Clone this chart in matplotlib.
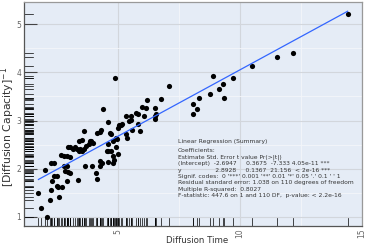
import numpy as np
import matplotlib
matplotlib.use('Agg')
import matplotlib.pyplot as plt
import matplotlib.transforms as mtransforms

# values
diff_time = [2.13, 1.87, 1.76, 2.24, 2.04, 2.27, 2.28, 2.41, 2.33, 2.41,
             2.52, 2.52, 2.61, 2.58, 2.72, 2.86, 2.95, 3.07, 2.79, 2.93,
             2.93, 3.38, 2.68, 2.79, 2.93, 3.04, 2.97, 3.07, 3.18, 3.24,
             3.34, 3.41, 3.48, 3.55, 3.61, 3.41, 3.55, 3.71, 3.82, 3.92,
             4.00, 3.61, 3.68, 3.96, 4.13, 4.16, 4.27, 4.37, 4.30, 4.41,
             4.16, 4.26, 4.34, 4.60, 4.62, 4.62, 4.71, 4.60, 4.81, 4.85,
             4.82, 4.67, 4.75, 5.01, 4.92, 4.82, 4.99, 5.05, 5.12, 5.03,
             5.36, 5.37, 5.33, 5.53, 5.53, 5.47, 5.60, 5.84, 5.91, 5.77,
             5.84, 6.08, 6.22, 6.15, 6.53, 6.53, 6.56, 4.88, 7.11, 6.77,
             6.52, 8.89, 9.30, 9.72, 9.13, 8.79, 9.35, 8.35, 8.07, 8.25,
             8.07, 10.51, 14.41, 12.16, 11.54, 4.57, 5.99, 3.89, 5.19, 4.94]
inv_capacity = [0.99, 1.19, 1.49, 1.35, 1.98, 1.56, 2.12, 2.12, 1.75, 1.85,
                1.85, 1.65, 1.42, 1.62, 1.61, 1.96, 1.94, 1.92, 2.05, 2.06,
                1.74, 1.77, 2.28, 2.27, 2.26, 2.24, 2.44, 2.46, 2.41, 2.44,
                2.41, 2.36, 2.40, 2.36, 2.40, 2.57, 2.59, 2.48, 2.52, 2.57,
                2.54, 2.79, 2.05, 2.05, 1.92, 1.79, 2.15, 2.12, 2.05, 3.24,
                2.74, 2.76, 2.80, 2.52, 2.96, 2.36, 2.36, 2.13, 2.26, 2.19,
                2.12, 2.74, 2.71, 2.31, 2.45, 2.57, 2.62, 2.90, 2.90, 2.85,
                2.72, 2.63, 3.09, 3.10, 3.01, 2.99, 2.81, 2.92, 2.78, 3.16,
                3.13, 3.09, 3.42, 3.26, 3.09, 3.04, 3.13, 3.88, 3.71, 3.45,
                3.25, 3.92, 3.76, 3.88, 3.65, 3.56, 3.46, 3.46, 3.35, 3.24,
                3.14, 4.13, 5.21, 4.41, 4.31, 2.37, 3.29, 2.57, 2.92, 2.64]

# fitted line as drawn in the picture
fit_intercept = 1.29
fit_slope = 0.276

summary_lines = [
    "Linear Regression (Summary)",
    "Coefficients:",
    "Estimate Std. Error t value Pr(>|t|)",
    "(Intercept)  -2.6947     0.3675  -7.333 4.05e-11 ***",
    "y                  2.8928     0.1367  21.156  < 2e-16 ***",
    "Signif. codes:  0 '***' 0.001 '**' 0.01 '*' 0.05 '.' 0.1 ' ' 1",
    "Residual standard error: 1.038 on 110 degrees of freedom",
    "Multiple R-squared:  0.8027",
    "F-statistic: 447.6 on 1 and 110 DF,  p-value: < 2.2e-16",
]

x = np.array(diff_time)
y = np.array(inv_capacity)

W, H = 367, 249
fig = plt.figure(figsize=(W / 100, H / 100), dpi=100)
ax = fig.add_axes([24 / W, 23 / H, 338 / W, 224 / H])
ax.set_facecolor('#E5ECF6')

# scatter + fitted line
ax.scatter(x, y, s=14, color='black', zorder=3, linewidths=0)
xs = np.array([x.min(), x.max()])
ax.plot(xs, fit_intercept + fit_slope * xs, color='#3366FF', lw=0.9, zorder=4)

# rugs on both axes
tx = mtransforms.blended_transform_factory(ax.transData, ax.transAxes)
ty = mtransforms.blended_transform_factory(ax.transAxes, ax.transData)
for v in x:
    ax.plot([v, v], [0, 0.036], color='black', lw=0.5, transform=tx, zorder=2)
for v in y:
    ax.plot([0, 0.026], [v, v], color='black', lw=0.5, transform=ty, zorder=2)

ax.set_xlim(1.17, 15)
ax.set_ylim(0.81, 5.46)
ax.set_xticks([5, 10, 15])
ax.set_yticks([1, 2, 3, 4, 5])
ax.set_xticks([7.5, 12.5], minor=True)
ax.set_yticks([1.5, 2.5, 3.5, 4.5], minor=True)
ax.grid(which='major', color='#D2D6DC', lw=0.8)
ax.grid(which='minor', color='#F4F6FA', lw=0.6)
ax.set_axisbelow(True)
ax.tick_params(which='major', direction='in', length=9, width=0.8, color='#444444',
               labelsize=5.5, labelcolor='#666666', pad=2)
ax.tick_params(which='minor', length=0)
ax.tick_params(axis='x', labelrotation=90, length=0, pad=2)
for sp in ax.spines.values():
    sp.set_color('#999999')
    sp.set_linewidth(0.9)
ax.spines['bottom'].set_color('#555555')
ax.spines['left'].set_color('#555555')

ax.set_xlabel('Diffusion Time', fontsize=6.2, color='#333333', va='center')
ax.xaxis.set_label_coords((197 - 24) / 338, (226 - 240) / 224)
ax.set_ylabel('[Diffusion Capacity]$^{-1}$', fontsize=7.8, color='#333333', va='center')
ax.yaxis.set_label_coords((8 - 24) / 338, (226 - 127) / 224)

# regression summary block
ypix = [141, 150, 157, 163.5, 170, 176, 182.5, 189, 195.5]
for line, yp in zip(summary_lines, ypix):
    fig.text(178 / W, 1 - yp / H, line, fontsize=4.3, color='#333333', va='center')

fig.savefig('out.png', dpi=100)
